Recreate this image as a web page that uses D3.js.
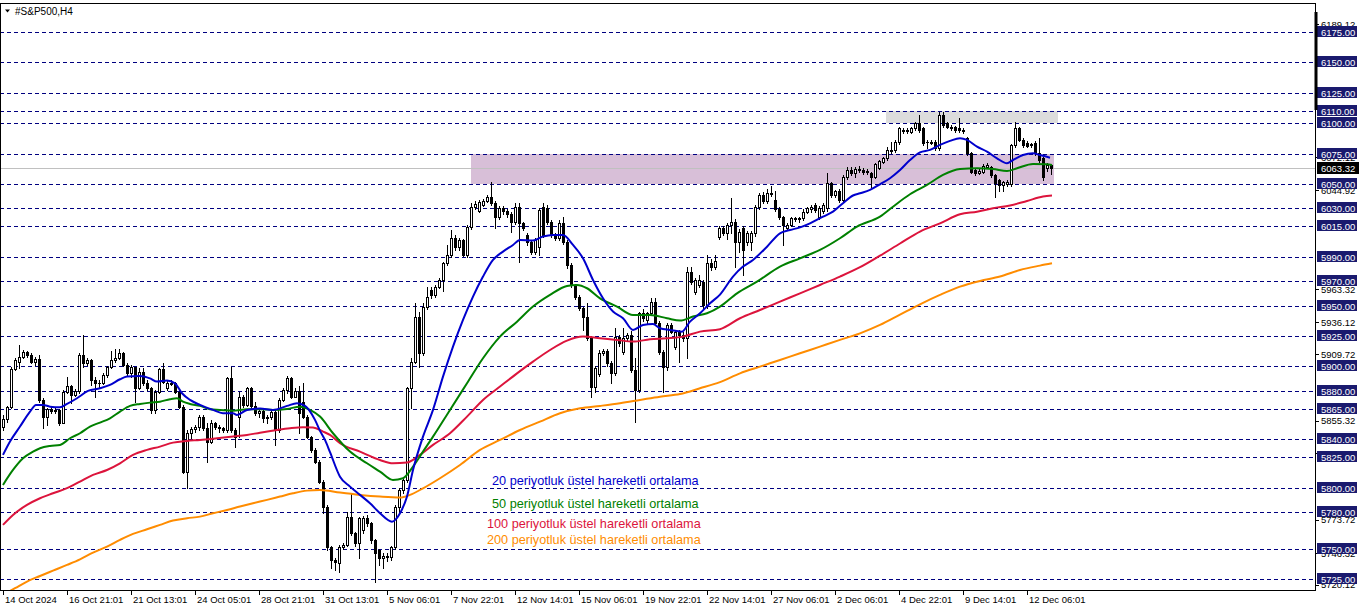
<!DOCTYPE html>
<html><head><meta charset="utf-8">
<script src="https://cdn.jsdelivr.net/npm/d3@7/dist/d3.min.js"></script>
<style>html,body{margin:0;padding:0;background:#fff;}svg{display:block;}</style>
</head><body>
<script>
// ---------- DATA ----------
const symbolTitle = "#S&P500,H4";
const opens = [
5850.4,5856.4,5866.3,5897.5,5903.9,5907.4,5912.1,5909.3,5903.9,5905.8,
5872.3,5858.1,5864.6,5863.5,5864.1,5853.7,5879.2,5883.8,5876.4,5880.0,
5909.3,5902.5,5905.2,5888.8,5886.6,5886.0,5892.9,5899.2,5905.2,5906.6,
5911.3,5901.1,5894.3,5899.2,5881.9,5895.0,5886.0,5881.9,5864.1,5879.2,
5897.5,5882.0,5886.0,5886.6,5879.2,5866.8,5813.4,5844.9,5848.5,5850.4,
5858.6,5849.0,5838.0,5853.1,5849.8,5849.0,5847.6,5890.1,5847.6,5858.6,
5875.1,5868.2,5881.9,5867.4,5861.4,5863.5,5857.2,5858.1,5862.7,5847.6,
5872.3,5880.5,5890.1,5875.1,5880.0,5870.9,5858.6,5842.2,5831.2,5821.6,
5805.1,5784.6,5751.7,5740.7,5737.9,5751.7,5753.0,5776.3,5762.6,5754.4,
5765.0,5775.5,5770.9,5757.1,5749.0,5742.0,5744.0,5743.0,5751.7,5784.6,
5798.3,5806.5,5881.9,5903.8,5940.9,5910.7,5949.1,5963.0,5958.8,5965.5,
5971.0,5984.7,5991.6,6005.3,5998.0,6003.5,5991.6,6014.9,6031.3,6028.0,
6033.0,6036.3,6039.6,6034.1,6023.1,6030.0,6027.5,6025.0,6019.0,6031.3,
6017.6,6008.0,6002.5,5994.3,5998.4,6031.0,6030.0,6019.0,6008.0,6005.3,
6017.6,6002.5,5983.4,5966.9,5957.3,5947.7,5940.9,5923.0,5883.3,5894.0,
5911.2,5912.5,5902.5,5894.2,5924.4,5911.5,5923.0,5925.8,5897.0,5880.5,
5943.6,5938.0,5943.5,5953.2,5935.4,5912.1,5899.7,5934.0,5916.2,5928.5,
5926.0,5923.5,5977.9,5961.4,5967.0,5969.6,5950.4,5984.7,5982.0,6006.7,
6013.5,6010.0,6016.3,6019.0,6002.5,6013.5,6002.5,6002.5,6009.4,6031.3,
6040.9,6036.0,6042.3,6036.8,6029.2,6023.1,6013.5,6016.3,6021.7,6021.0,
6021.7,6027.2,6029.0,6032.7,6023.1,6028.0,6030.0,6050.5,6040.9,6044.0,
6036.8,6056.0,6061.5,6059.0,6062.0,6061.5,6059.6,6058.8,6056.0,6063.4,
6068.4,6071.1,6078.0,6078.0,6084.8,6094.0,6093.6,6093.0,6095.8,6099.9,
6095.8,6084.8,6084.5,6084.8,6079.3,6106.7,6099.9,6097.2,6096.6,6095.8,
6094.4,6087.6,6075.2,6061.5,6058.8,6060.1,6064.2,6064.2,6057.4,6053.3,
6049.2,6049.7,6049.7,6082.1,6095.8,6086.2,6083.4,6082.0,6083.4,6075.2,
6071.1,6062.9,6065.2];
const highs = [
5860.0,5867.4,5899.7,5906.6,5917.6,5913.5,5912.9,5910.7,5908.0,5909.3,
5873.7,5865.5,5866.3,5865.5,5864.6,5880.5,5891.5,5884.7,5881.1,5911.0,
5925.8,5906.6,5905.8,5891.5,5888.8,5894.3,5900.3,5912.9,5914.0,5914.0,
5911.8,5902.5,5901.1,5899.7,5898.4,5898.4,5888.8,5883.3,5880.5,5898.4,
5902.5,5887.5,5888.8,5887.4,5880.5,5868.2,5847.6,5850.4,5851.8,5860.0,
5860.0,5853.1,5855.9,5854.5,5851.8,5850.4,5891.5,5899.7,5849.0,5879.2,
5876.4,5883.3,5883.3,5870.9,5865.5,5864.6,5860.0,5864.1,5864.1,5873.7,
5881.9,5892.1,5891.5,5881.9,5884.0,5886.0,5860.0,5843.0,5832.5,5823.0,
5806.5,5786.0,5752.5,5742.0,5753.0,5754.4,5780.4,5795.5,5764.0,5776.0,
5777.0,5777.3,5772.0,5758.0,5750.0,5746.0,5746.5,5752.5,5786.0,5800.0,
5808.0,5883.3,5906.6,5951.8,5945.0,5951.8,5965.5,5965.0,5967.0,5972.5,
5986.0,5999.8,6012.1,6008.0,6005.5,6005.0,6016.0,6034.1,6036.0,6037.0,
6038.0,6041.0,6051.9,6036.0,6032.0,6032.0,6029.0,6027.0,6034.0,6034.0,
6019.0,6010.0,6004.0,6005.5,6030.0,6034.1,6033.0,6020.0,6009.4,6020.4,
6023.1,6004.0,5985.0,5968.0,5959.0,5949.0,5951.8,5924.5,5900.0,5913.4,
5914.0,5914.0,5904.0,5931.3,5926.0,5931.3,5927.0,5929.0,5906.6,5945.0,
5947.0,5945.0,5955.9,5955.9,5937.0,5913.0,5935.5,5936.0,5929.0,5930.0,
5928.0,5982.0,5982.0,5972.5,5975.0,5971.0,5991.6,5988.0,5991.6,6015.0,
6015.0,6018.0,6038.2,6021.0,6013.0,6015.0,6011.0,6011.0,6033.0,6042.3,
6043.0,6045.6,6048.0,6044.0,6031.0,6024.0,6018.0,6023.0,6023.0,6023.0,
6029.0,6031.0,6033.0,6034.0,6031.5,6034.0,6058.8,6052.0,6045.0,6046.0,
6057.5,6064.0,6064.0,6064.0,6065.0,6063.0,6062.0,6060.0,6067.5,6070.0,
6072.5,6080.0,6084.8,6086.0,6097.0,6096.0,6096.0,6097.0,6101.0,6106.7,
6097.0,6086.0,6086.0,6086.0,6109.5,6109.5,6101.0,6098.5,6098.0,6104.0,
6096.0,6089.0,6076.0,6062.5,6062.0,6066.0,6067.0,6065.0,6058.0,6054.0,
6052.5,6053.0,6083.0,6101.3,6097.0,6088.0,6085.0,6084.0,6085.0,6087.6,
6072.0,6067.0,6066.0];
const lows = [
5847.6,5854.5,5865.5,5897.0,5898.4,5906.6,5908.0,5902.5,5901.1,5870.9,
5849.0,5851.8,5861.3,5861.9,5851.8,5853.1,5877.8,5869.6,5875.6,5878.3,
5899.7,5901.1,5884.7,5875.1,5883.3,5885.5,5891.5,5898.4,5903.9,5906.0,
5900.3,5892.9,5891.5,5870.9,5881.1,5884.7,5880.5,5861.3,5861.3,5877.8,
5886.0,5880.5,5884.7,5877.8,5865.5,5812.0,5799.7,5840.8,5846.3,5847.6,
5847.6,5821.6,5836.7,5848.2,5846.3,5846.3,5846.3,5846.3,5833.9,5842.0,
5866.8,5867.4,5865.5,5860.0,5858.1,5854.5,5853.1,5856.4,5835.3,5846.3,
5871.8,5878.3,5873.7,5875.1,5845.0,5857.2,5841.0,5829.8,5820.8,5804.3,
5779.1,5748.9,5733.8,5732.5,5731.1,5750.0,5752.0,5761.0,5752.5,5742.1,
5763.0,5769.0,5755.0,5722.9,5736.6,5733.8,5740.0,5741.0,5750.0,5779.1,
5796.0,5805.0,5865.4,5902.5,5899.7,5909.0,5947.0,5956.0,5957.0,5964.0,
5962.0,5983.0,5990.0,5996.0,5996.0,5990.8,5990.0,6013.0,6029.0,6027.0,
6032.0,6035.0,6033.0,6013.5,6021.0,6025.0,6023.0,6010.8,6017.0,5986.1,
6012.0,6000.0,5992.5,5992.5,5991.6,6006.0,6017.0,6006.0,6003.5,6003.8,
6001.0,5981.0,5965.0,5955.5,5946.0,5929.9,5921.5,5875.0,5879.0,5892.0,
5909.0,5900.0,5886.0,5892.5,5917.0,5910.0,5921.0,5895.0,5854.5,5879.0,
5937.0,5936.0,5942.0,5934.0,5910.0,5879.2,5897.0,5927.0,5914.0,5903.8,
5921.0,5906.6,5968.0,5959.5,5965.0,5948.0,5948.0,5979.0,5980.0,6005.0,
6008.0,6005.0,6010.0,5982.0,5994.3,5975.1,6000.0,5995.7,6007.0,6029.0,
6034.0,6034.0,6040.0,6028.0,6021.0,6000.0,6012.0,6015.0,6019.5,6019.0,
6020.0,6026.0,6027.0,6027.0,6021.0,6026.0,6028.0,6039.0,6039.0,6035.0,
6035.0,6054.0,6057.0,6056.0,6059.5,6058.0,6058.0,6047.8,6055.0,6062.0,
6067.0,6070.0,6075.5,6076.0,6083.0,6092.0,6092.0,6092.0,6094.0,6093.0,
6082.0,6079.3,6083.0,6078.0,6078.0,6097.0,6096.0,6094.0,6093.0,6093.0,
6092.0,6074.0,6059.0,6057.5,6058.0,6059.0,6063.0,6056.0,6039.6,6044.0,
6044.0,6048.0,6048.0,6080.0,6085.0,6080.5,6080.0,6080.5,6074.0,6068.0,
6053.0,6061.0,6058.5];
const closes = [
5856.4,5866.3,5897.5,5905.2,5907.4,5912.1,5909.3,5903.9,5905.8,5872.3,
5858.1,5864.6,5863.5,5864.1,5853.7,5879.2,5883.8,5876.4,5880.0,5909.3,
5902.5,5905.2,5888.8,5886.6,5886.0,5892.9,5899.2,5905.2,5906.6,5911.3,
5901.1,5894.3,5899.2,5881.9,5895.0,5886.0,5881.9,5864.1,5879.2,5897.5,
5887.4,5886.0,5886.6,5879.2,5866.8,5813.4,5844.9,5848.5,5850.4,5858.6,
5849.0,5838.0,5853.1,5849.8,5849.0,5847.6,5890.1,5847.6,5842.2,5875.1,
5868.2,5881.9,5867.4,5861.4,5863.5,5857.2,5858.1,5862.7,5847.6,5872.3,
5880.5,5890.1,5875.1,5880.0,5861.4,5858.6,5842.2,5831.2,5821.6,5805.1,
5784.6,5751.7,5740.7,5739.3,5751.7,5753.0,5776.3,5762.6,5754.4,5775.0,
5775.5,5770.9,5757.1,5746.2,5742.0,5744.0,5743.0,5751.7,5784.6,5798.3,
5806.5,5881.9,5903.8,5940.9,5910.7,5949.1,5957.3,5958.8,5965.5,5971.0,
5984.7,5991.6,6005.3,5998.0,6003.5,5991.6,6014.9,6031.3,6033.5,6035.5,
6036.3,6039.6,6034.1,6023.1,6030.0,6027.5,6025.0,6019.0,6031.3,6017.6,
6013.5,6002.5,5994.3,6003.9,6028.6,6008.0,6019.0,6008.0,6005.3,6017.6,
6002.5,5983.4,5966.9,5957.3,5947.7,5940.9,5923.0,5883.3,5898.4,5911.2,
5912.5,5902.5,5894.2,5924.4,5919.5,5923.0,5925.8,5897.0,5880.5,5943.6,
5940.0,5943.5,5953.2,5935.4,5912.1,5899.7,5934.0,5928.5,5928.5,5926.0,
5923.5,5977.9,5969.6,5971.0,5971.0,5950.4,5984.7,5982.0,5986.9,6013.5,
6010.0,6016.3,6019.0,6002.5,6010.8,5995.7,6009.4,6009.4,6031.3,6040.9,
6036.0,6042.3,6042.8,6029.2,6023.1,6016.3,6016.3,6021.7,6021.0,6022.0,
6027.2,6030.0,6031.3,6028.6,6030.0,6032.7,6050.5,6040.9,6044.0,6036.8,
6056.0,6061.5,6059.0,6062.0,6061.5,6059.6,6060.5,6056.0,6066.2,6068.9,
6071.1,6078.0,6077.0,6084.8,6095.8,6093.6,6094.4,6095.8,6099.9,6094.4,
6083.4,6084.2,6084.8,6079.3,6106.7,6098.5,6097.2,6095.8,6094.4,6094.4,
6093.6,6075.2,6060.1,6058.8,6060.7,6064.9,6065.6,6057.4,6050.5,6049.2,
6051.4,6051.9,6082.1,6095.8,6086.2,6082.1,6081.5,6082.6,6075.2,6069.7,
6056.0,6065.6,6063.3];

// moving averages: [bar index, price]
const ema20 = [[0,5827.1],[1.75,5838.1],[4.25,5850.4],[6.75,5862.7],[8.25,5868.2],[10,5868.2],[11.75,5866.8],[14.25,5866.3],[16,5869.0],[18.5,5873.7],[21.25,5879.7],[24.25,5881.9],[26.75,5884.7],[29.25,5889.3],[31,5891.5],[34.25,5892.1],[36.75,5890.1],[38.5,5887.4],[41,5888.2],[43,5886.0],[44.75,5877.8],[46.75,5872.3],[49.25,5868.2],[52.5,5864.1],[55,5861.4],[57.5,5861.4],[58.5,5860.0],[61,5864.1],[64.25,5865.2],[67.5,5864.1],[71,5867.4],[73.5,5869.6],[75.5,5867.4],[78,5855.9],[79.25,5846.9],[80.5,5839.4],[81.75,5829.4],[84.25,5809.2],[86.75,5801.0],[89.25,5794.2],[91.75,5787.3],[94.25,5779.1],[97.25,5772.2],[99.25,5779.1],[101,5792.8],[102.5,5814.7],[105,5842.1],[107.5,5864.1],[110,5891.5],[112.5,5916.2],[115,5938.1],[117.5,5957.3],[120,5973.8],[122.5,5987.5],[125,5994.3],[127.5,5999.8],[129.25,6003.9],[132.5,6003.4],[135,6006.7],[137.5,6008.0],[140,6008.0],[142.5,5999.8],[145,5988.8],[147.5,5971.0],[150,5955.9],[152.5,5945.0],[155,5939.5],[157.5,5929.9],[160,5934.0],[162.5,5934.8],[164.25,5931.3],[166.75,5929.9],[169.75,5928.5],[171.75,5936.7],[174.25,5943.6],[176.75,5951.8],[179.25,5959.0],[182.5,5973.8],[185,5982.0],[187.5,5987.5],[191,5998.4],[194.25,6009.4],[196.75,6012.1],[199.25,6014.3],[201.75,6017.6],[205,6023.1],[207.5,6027.2],[210,6034.1],[212.5,6040.5],[214.25,6042.3],[216.75,6045.1],[219.25,6049.7],[221.75,6054.7],[224.25,6061.5],[226.75,6069.7],[229.25,6076.0],[231.75,6078.0],[234.25,6082.1],[236.75,6085.4],[239.25,6087.6],[241,6086.2],[243.5,6080.7],[246,6076.6],[248.5,6071.1],[251,6067.0],[252.5,6069.7],[255,6073.8],[257.5,6075.2],[259.25,6073.8],[261.75,6071.6]];
const ema50 = [[0,5802.4],[2.5,5814.7],[5,5824.3],[7.5,5829.8],[9.25,5832.6],[11.75,5834.5],[14.25,5835.3],[16.75,5840.8],[19.25,5844.9],[21.75,5850.4],[24.25,5853.7],[26.75,5857.2],[29.25,5862.7],[31.75,5867.4],[34.25,5869.0],[36.75,5870.1],[39.25,5870.9],[41.75,5872.9],[43.5,5873.7],[45,5870.9],[46.75,5869.0],[49.25,5867.4],[51.75,5864.6],[54.25,5864.1],[57.5,5863.5],[61,5864.6],[64.25,5864.6],[67.5,5864.1],[71,5864.9],[74.25,5866.8],[76.75,5864.1],[79.25,5858.6],[82.5,5844.9],[86.75,5829.8],[91,5820.2],[94.25,5813.4],[97.5,5806.5],[100,5807.9],[102.5,5817.5],[105,5829.8],[107.5,5842.1],[111.75,5864.1],[116,5886.0],[120,5906.6],[124.25,5924.4],[128.5,5936.7],[132.5,5949.1],[136.75,5958.7],[141,5966.1],[143.5,5966.9],[146,5964.2],[149.25,5955.9],[153.5,5949.1],[157.5,5942.2],[161.75,5942.2],[166,5939.5],[169.25,5937.6],[172.5,5940.9],[176,5943.6],[179.25,5949.1],[183.5,5960.0],[188.5,5969.6],[194.25,5982.0],[199.25,5988.8],[204.25,5995.7],[209.25,6005.3],[213.5,6014.9],[219.25,6023.1],[222.5,6031.3],[226.75,6041.5],[231,6049.2],[235,6057.4],[239.25,6062.3],[243.5,6062.9],[247.5,6062.3],[251,6060.7],[253.5,6062.9],[257.5,6066.4],[261,6066.2],[262.25,6065.6]];
const ema100 = [[0,5769.5],[2.5,5777.7],[6,5785.9],[9.25,5791.4],[12.5,5795.5],[16,5799.7],[19.25,5805.1],[22.5,5810.6],[26,5814.7],[29.25,5820.2],[32.5,5827.1],[36,5831.2],[39.25,5833.9],[42.5,5837.2],[46,5838.6],[49.25,5839.4],[53.5,5840.8],[57.5,5842.2],[61,5843.5],[64.25,5845.4],[68.5,5847.6],[71.75,5849.0],[75,5849.8],[77.5,5849.6],[80,5846.3],[81.75,5843.5],[84.25,5836.7],[89.25,5829.8],[94.25,5822.9],[97.5,5820.2],[101,5820.8],[104.25,5827.1],[107.5,5835.3],[111.75,5844.9],[116,5858.6],[120,5872.3],[124.25,5883.3],[128.5,5894.2],[132.5,5903.8],[136.75,5913.4],[141,5921.1],[145,5924.4],[149.25,5923.0],[153.5,5921.7],[157.5,5920.3],[161.75,5922.2],[166,5923.0],[170,5924.4],[174.25,5928.5],[179.25,5930.5],[184.25,5939.5],[189.25,5946.3],[194.25,5953.2],[199.25,5960.0],[204.25,5966.9],[209.25,5973.8],[214.25,5981.5],[219.25,5991.0],[224.25,6001.0],[229.25,6010.8],[234.25,6017.6],[239.25,6025.0],[243.5,6027.2],[247.5,6030.0],[251.75,6032.2],[256,6036.0],[260,6039.6],[262.25,6040.4]];
const ema200 = [[0,5712.0],[3,5717.4],[6,5722.9],[9.25,5727.5],[12.5,5731.9],[16,5736.6],[19.25,5741.2],[22.5,5746.7],[26,5751.7],[29.25,5757.2],[32.5,5762.1],[36,5765.9],[39.25,5769.5],[42.5,5773.1],[46,5775.0],[49.25,5776.3],[52.5,5779.1],[56,5781.8],[59.25,5784.6],[62.5,5787.3],[66,5790.1],[69.25,5792.8],[72.5,5795.5],[76,5797.7],[79.25,5798.3],[84.25,5796.1],[89.25,5794.2],[94.25,5792.8],[99.25,5792.0],[101.75,5794.2],[105,5799.6],[109.25,5807.9],[114.25,5818.8],[119.25,5831.2],[124.25,5839.4],[129.25,5847.6],[134.25,5854.5],[139.25,5861.3],[144.25,5865.4],[149.25,5867.4],[154.25,5869.6],[159.25,5872.3],[164.25,5875.0],[169.25,5877.2],[174.25,5881.9],[179.25,5887.0],[184.25,5894.2],[189.25,5899.7],[194.25,5905.2],[199.25,5910.7],[204.25,5916.2],[209.25,5921.7],[214.25,5927.1],[219.25,5934.0],[224.25,5942.5],[229.25,5951.0],[234.25,5958.7],[239.25,5965.5],[244.25,5970.2],[249.25,5973.8],[254.25,5979.2],[259.25,5982.8],[262.25,5984.7]];

const levels = [6175,6150,6125,6110,6100,6075,6050,6030,6015,5990,5970,5950,5925,5900,5880,5865,5840,5825,5800,5780,5750,5725];
const priceTicks = [6189.12,6072.12,6044.92,5963.32,5936.12,5909.72,5855.32,5828.52,5773.72,5746.32,5720.12];
const bidPrice = 6063.32;
const zoneBars = [[117,262.75],[220.75,263.75]];
const zonePrices = [[6075,6050],[6110,6100]];
const timeLabelBars = [0,16,32,48,64,80,96,112,128,144,160,176,192,208,224,240,256];
const timeLabels = ["14 Oct 2024","16 Oct 21:01","21 Oct 13:01","24 Oct 05:01","28 Oct 21:01","31 Oct 13:01","5 Nov 06:01","7 Nov 22:01","12 Nov 14:01","15 Nov 06:01","19 Nov 22:01","22 Nov 14:01","27 Nov 06:01","2 Dec 06:01","4 Dec 22:01","9 Dec 14:01","12 Dec 06:01"];
const legendTexts = ["20 periyotluk üstel hareketli ortalama","50 periyotluk üstel hareketli ortalama","100 periyotluk üstel hareketli ortalama","200 periyotluk üstel hareketli ortalama"];

// ---------- DRAW ----------
const W = 1362, H = 611;
const plot = {left:0, top:3, right:1315, bottom:590};
const font = "'Liberation Sans', Arial, sans-serif";
const maColors = ["#0000cd","#008000","#dc143c","#ff8c00"];

const x = d3.scaleLinear().domain([0, 262]).range([3, 1051]);
const y = d3.scaleLinear().domain([5725, 6175]).range([579, 32]);

const svg = d3.select("body").append("svg").attr("width", W).attr("height", H)
  .style("font-family", font);
svg.append("rect").attr("width", W).attr("height", H).attr("fill", "#fff");

svg.append("defs").append("clipPath").attr("id","clip").append("rect")
  .attr("x", plot.left).attr("y", plot.top)
  .attr("width", plot.right - plot.left).attr("height", plot.bottom - plot.top);

const g = svg.append("g").attr("clip-path","url(#clip)");

// zones
const zoneColors = ["#d8bfd8","#dcdcdc"];
g.selectAll("rect.zone").data(zoneBars).join("rect").attr("class","zone")
  .attr("x", d => Math.round(x(d[0])))
  .attr("width", d => Math.round(x(d[1])) - Math.round(x(d[0])))
  .attr("y", (d,i) => Math.round(y(zonePrices[i][0])))
  .attr("height", (d,i) => Math.round(y(zonePrices[i][1])) - Math.round(y(zonePrices[i][0])))
  .attr("fill", (d,i) => zoneColors[i]);

// level lines
g.selectAll("line.level").data(levels).join("line").attr("class","level")
  .attr("x1", plot.left).attr("x2", plot.right)
  .attr("y1", d => Math.round(y(d)) + 0.5).attr("y2", d => Math.round(y(d)) + 0.5)
  .attr("stroke", "#000080").attr("stroke-width", 1).attr("stroke-dasharray", "4,3");

// bid line
g.append("line").attr("x1", plot.left).attr("x2", plot.right)
  .attr("y1", Math.round(y(bidPrice)) + 0.5).attr("y2", Math.round(y(bidPrice)) + 0.5)
  .attr("stroke", "#c0c0c0").attr("stroke-width", 1);

// candles
const idx = d3.range(closes.length);
const cg = g.append("g").attr("shape-rendering","crispEdges");
cg.selectAll("line.wick").data(idx).join("line").attr("class","wick")
  .attr("x1", i => Math.round(x(i)) + 0.5).attr("x2", i => Math.round(x(i)) + 0.5)
  .attr("y1", i => Math.round(y(highs[i]))).attr("y2", i => Math.round(y(lows[i])) + 1)
  .attr("stroke", "#000").attr("stroke-width", 1);
cg.selectAll("rect.body").data(idx).join("rect").attr("class","body")
  .each(function(i) {
    const top = Math.round(y(Math.max(opens[i], closes[i])));
    const bot = Math.round(y(Math.min(opens[i], closes[i])));
    const xi = Math.round(x(i));
    const sel = d3.select(this);
    if (closes[i] >= opens[i]) {
      const h = Math.max(bot - top, 1);
      sel.attr("x", xi - 0.5).attr("y", top + 0.5).attr("width", 2).attr("height", h)
        .attr("fill", "#fff").attr("stroke", "#000").attr("stroke-width", 1);
    } else {
      sel.attr("x", xi - 1).attr("y", top).attr("width", 3).attr("height", Math.max(bot - top + 1, 1))
        .attr("fill", "#000");
    }
  });

// moving averages
const line = d3.line().x(d => x(d[0])).y(d => y(d[1])).curve(d3.curveMonotoneX);
[ema200, ema100, ema50, ema20].forEach((s, k) => {
  g.append("path").attr("d", line(s)).attr("fill","none")
    .attr("stroke", maColors[3 - k]).attr("stroke-width", 2).attr("stroke-linejoin","round");
});

// legend text
const legendX = [492, 492, 487, 487];
const legendY = [485, 508, 528, 544];
svg.selectAll("text.leg").data(legendTexts).join("text").attr("class","leg")
  .attr("x", (d,i) => legendX[i]).attr("y", (d,i) => legendY[i])
  .attr("font-size", "12.7px").attr("fill", (d,i) => maColors[i]).text(d => d);

// frame
svg.append("rect").attr("x", plot.left + 0.5).attr("y", plot.top + 0.5)
  .attr("width", plot.right - plot.left).attr("height", plot.bottom - plot.top)
  .attr("fill","none").attr("stroke","#000").attr("shape-rendering","crispEdges");

// title
svg.append("path").attr("d","M5,9.5 L10,9.5 L7.5,12.5 Z").attr("fill","#000");
svg.append("text").attr("x", 15).attr("y", 15).attr("font-size","10px").attr("fill","#000").text(symbolTitle);

// time axis
const tg = svg.append("g").attr("shape-rendering","crispEdges");
tg.selectAll("line").data(timeLabelBars).join("line")
  .attr("x1", d => Math.round(x(d)) + 0.5).attr("x2", d => Math.round(x(d)) + 0.5)
  .attr("y1", plot.bottom).attr("y2", plot.bottom + 5).attr("stroke","#000");
svg.selectAll("text.time").data(timeLabels).join("text").attr("class","time")
  .attr("x", (d,i) => Math.round(x(timeLabelBars[i])) + 2).attr("y", 603)
  .attr("font-size","9.5px").attr("fill","#000").text(d => d);

// price axis: ticks
const fmt = d3.format(".2f");
const pg = svg.append("g");
pg.selectAll("line.pt").data(priceTicks).join("line").attr("class","pt")
  .attr("x1", plot.right).attr("x2", plot.right + 4)
  .attr("y1", d => Math.max(Math.round(y(d)), 24) + 0.5).attr("y2", d => Math.max(Math.round(y(d)), 24) + 0.5)
  .attr("stroke","#000").attr("shape-rendering","crispEdges");
pg.selectAll("text.pt").data(priceTicks).join("text").attr("class","pt")
  .attr("x", plot.right + 6).attr("y", d => Math.max(y(d), 24) + 3.5)
  .attr("font-size","9.5px").attr("fill","#000").text(d => fmt(d));

// level boxes
const lb = pg.selectAll("g.lb").data(levels).join("g").attr("class","lb")
  .attr("transform", d => `translate(${plot.right + 2},${Math.round(y(d))})`);
lb.append("rect").attr("x", 0).attr("y", -6).attr("width", 40).attr("height", 11)
  .attr("fill", "#1a1a6e").attr("shape-rendering","crispEdges");
lb.append("text").attr("x", 4).attr("y", 3.5).attr("font-size","9.5px").attr("fill","#fff").text(d => fmt(d));

// bid box
const bb = pg.append("g").attr("transform", `translate(${plot.right + 2},${Math.round(y(bidPrice))})`);
bb.append("rect").attr("x",0).attr("y",-6).attr("width",42).attr("height",12).attr("fill","#000");
bb.append("text").attr("x",4).attr("y",3.5).attr("font-size","9.5px").attr("fill","#fff").text(fmt(bidPrice));

// right edge marker
svg.append("rect").attr("x", plot.right - 0.5).attr("y", 12).attr("width", 3).attr("height", 98).attr("fill","#000");
</script>
</body></html>
